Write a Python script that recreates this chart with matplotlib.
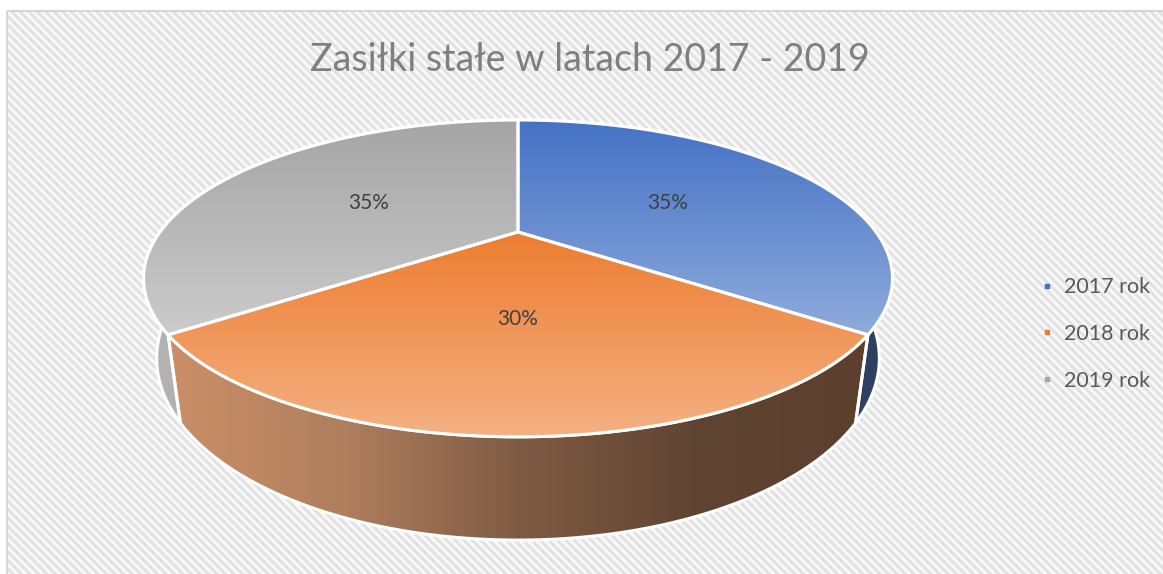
import numpy as np
import matplotlib
matplotlib.use('Agg')
import matplotlib.pyplot as plt
from matplotlib.patches import Polygon, Rectangle
from matplotlib.colors import LinearSegmentedColormap
from matplotlib.lines import Line2D

# ---------------- data ----------------
categories = ['2017 rok', '2018 rok', '2019 rok']
shares = [35, 30, 35]
title = 'Zasiłki stałe w latach 2017 - 2019'

top_colors = [['#4472c4', '#8fabdc'], ['#ed7d31', '#f4b183'], ['#a5a5a5', '#cbcbcb']]
wall_colors = [['#3e5684', '#2d3f5f'],
               ['#cb8f67', '#b07f5e', '#7f5b43', '#604432', '#5c3f2c'],
               ['#b4b4b4', '#9a9a9a']]
legend_colors = ['#4472c4', '#ed7d31', '#a5a5a5']

FONT = 'Lato'
W, H = 1163, 574
fig = plt.figure(figsize=(W / 100, H / 100), dpi=100)
ax = fig.add_axes([0, 0, 1, 1])
ax.set_xlim(0, W)
ax.set_ylim(H, 0)
ax.axis('off')

# ---------------- background (striped chart area) ----------------
yy, xx = np.mgrid[0:H, 0:W]
stripe = 0.5 + 0.5 * np.cos(2 * np.pi * (xx - yy) / 8.5)
bgcm = LinearSegmentedColormap.from_list('bg', ['#fbfbfb', '#e0e0e0'])
frame = Rectangle((7, 11), W + 20, H + 20, fc='none', ec='#d6d6d6', lw=1.5, zorder=1)
ax.add_patch(frame)
im = ax.imshow(stripe, cmap=bgcm, extent=(0, W, H, 0), aspect='auto',
               interpolation='bilinear', zorder=0)
im.set_clip_path(frame)

# ---------------- 3D pie geometry ----------------
cx, cy = 518.0, 232.0
A, B = 358.0, 144.8
p = 0.293
hgt = 73.0
kb = 0.965


def proj(th, r=1.0, bottom=False):
    th = np.asarray(th)
    x = r * np.sin(th)
    d = -r * np.cos(th)
    s = 1.0 / (1.0 - p * d)
    X = cx + A * x * s * (kb if bottom else 1.0)
    Y = cy + B * d * s + (hgt * s if bottom else 0.0)
    return X, Y


total = float(sum(shares))
bounds = np.concatenate([[0], np.cumsum(shares)]) / total * 2 * np.pi


def grad_fill(poly_xy, colors, horizontal, z):
    patch = Polygon(poly_xy, closed=True, fc='none', ec='white', lw=2.2, zorder=z + 0.5,
                    joinstyle='round')
    ax.add_patch(patch)
    x0, x1 = poly_xy[:, 0].min(), poly_xy[:, 0].max()
    y0, y1 = poly_xy[:, 1].min(), poly_xy[:, 1].max()
    cm = LinearSegmentedColormap.from_list('g', colors)
    g = np.linspace(0, 1, 256)
    arr = g[None, :] if horizontal else g[:, None]
    img = ax.imshow(arr, cmap=cm, extent=(x0, x1, y1, y0), aspect='auto',
                    interpolation='bilinear', zorder=z)
    img.set_clip_path(patch)


# walls, back to front
order = sorted(range(len(shares)), key=lambda i: -np.cos((bounds[i] + bounds[i + 1]) / 2))
for i in order:
    t = np.linspace(bounds[i], bounds[i + 1], 300)
    xt, ytp = proj(t)
    xb, yb = proj(t[::-1], bottom=True)
    poly = np.column_stack([np.concatenate([xt, xb]), np.concatenate([ytp, yb])])
    grad_fill(poly, wall_colors[i], True, 2 + 0.1 * order.index(i))

# top faces
for i in range(len(shares)):
    t = np.linspace(bounds[i], bounds[i + 1], 300)
    xt, ytp = proj(t)
    poly = np.column_stack([np.concatenate([[cx], xt]), np.concatenate([[cy], ytp])])
    grad_fill(poly, top_colors[i], False, 4)

# percentage labels
for i, v in enumerate(shares):
    mid = (bounds[i] + bounds[i + 1]) / 2
    lx, ly = proj(mid, r=0.5)
    ax.text(lx, ly + 2, f'{v / total * 100:.0f}%', ha='center', va='center',
            fontsize=15, color='#404040', family=FONT, zorder=6)

# title
ax.text(590, 60, title, ha='center', va='center', fontsize=27, color='#7f7f7f',
        family=FONT, zorder=6)

# legend
handles = [Line2D([], [], marker='s', ls='', color=c, markersize=3.5) for c in legend_colors]
leg = ax.legend(handles, categories, loc='center left',
                bbox_to_anchor=(1036 / W, 1 - 334 / H), frameon=False,
                prop={'family': FONT, 'size': 15.5}, labelcolor='#595959',
                labelspacing=1.25, handletextpad=0.3, handlelength=1.0,
                borderaxespad=0.0, borderpad=0.0)
leg.set_zorder(7)

fig.savefig('out.png', dpi=100)
